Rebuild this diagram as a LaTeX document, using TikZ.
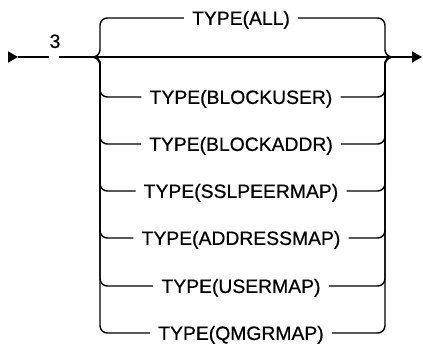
\documentclass[tikz,border=0pt]{standalone}
\usepackage{fontspec}
\setmainfont{Liberation Sans}
\newfontfamily\railfont{Liberation Sans}[FakeBold=0.5]
\usetikzlibrary{arrows.meta}
\tikzset{
  railline/.style={line width=1.1pt,line cap=butt},
  branchline/.style={railline,rounded corners=5.5pt},
  choicelabel/.style={font=\railfont\fontsize{14.5}{17}\selectfont,text height=10.4pt,
    text depth=0pt,inner xsep=6pt,inner ysep=0pt},
  railtip/.style={-{Triangle[length=7.5pt,width=8.25pt]}}
}

\begin{document}
\begin{tikzpicture}[x=0.75pt,y=-0.75pt]
  \useasboundingbox (0,0) rectangle (423,346);
  % main line
  \coordinate (entry) at (8,57);
  \coordinate (start) at (18,57);
  \coordinate (gapl) at (49,57);
  \coordinate (gapr) at (59,57);
  \coordinate (leftjoin) at (92,57);
  \coordinate (leftbend) at (100,57);
  \coordinate (rightbend) at (385,57);
  \coordinate (rightjoin) at (393,57);
  \coordinate (finish) at (422,57);
  \node[choicelabel,inner xsep=0pt] (three) at (55,41) {3};
  \draw[railline,railtip] (entry) -- (start);
  \draw[railline] (start) -- (gapl);
  \draw[railline,railtip] (gapr) -- (finish);
  % choices
  \node[choicelabel] (all) at (241,18) {TYPE(ALL)};
  \node[choicelabel] (blockuser) at (241,97) {TYPE(BLOCKUSER)};
  \node[choicelabel] (blockaddr) at (241,144) {TYPE(BLOCKADDR)};
  \node[choicelabel] (sslpeermap) at (241,191) {TYPE(SSLPEERMAP)};
  \node[choicelabel] (addressmap) at (241,238) {TYPE(ADDRESSMAP)};
  \node[choicelabel] (usermap) at (241,286) {TYPE(USERMAP)};
  \node[choicelabel] (qmgrmap) at (241,333) {TYPE(QMGRMAP)};
  % branches
  \draw[branchline] (leftjoin) -- (leftbend) |- (all.west);
  \draw[branchline] (all.east) -| (rightbend) -- (rightjoin);
  \draw[branchline] (leftjoin) -- (leftbend) |- (blockuser.west);
  \draw[branchline] (blockuser.east) -| (rightbend) -- (rightjoin);
  \draw[branchline] (leftjoin) -- (leftbend) |- (blockaddr.west);
  \draw[branchline] (blockaddr.east) -| (rightbend) -- (rightjoin);
  \draw[branchline] (leftjoin) -- (leftbend) |- (sslpeermap.west);
  \draw[branchline] (sslpeermap.east) -| (rightbend) -- (rightjoin);
  \draw[branchline] (leftjoin) -- (leftbend) |- (addressmap.west);
  \draw[branchline] (addressmap.east) -| (rightbend) -- (rightjoin);
  \draw[branchline] (leftjoin) -- (leftbend) |- (usermap.west);
  \draw[branchline] (usermap.east) -| (rightbend) -- (rightjoin);
  \draw[branchline] (leftjoin) -- (leftbend) |- (qmgrmap.west);
  \draw[branchline] (qmgrmap.east) -| (rightbend) -- (rightjoin);
\end{tikzpicture}
\end{document}
